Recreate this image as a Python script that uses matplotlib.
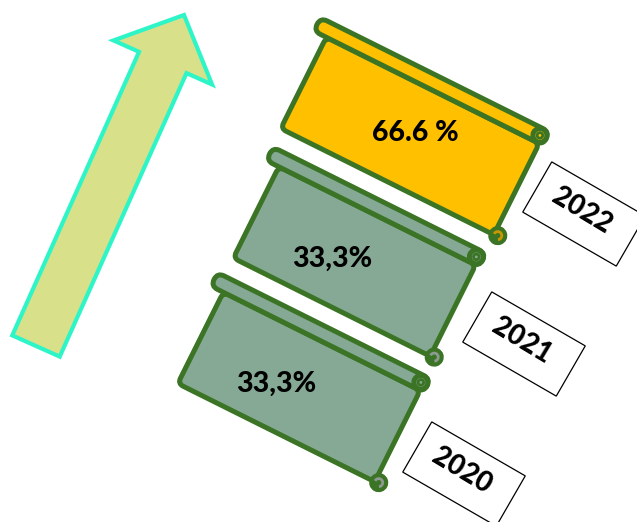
import numpy as np
import matplotlib.pyplot as plt
from matplotlib.patches import FancyBboxPatch, FancyArrow, Circle, Arc, Rectangle
from matplotlib.transforms import Affine2D

# data
years = ['2020', '2021', '2022']
shares = ['33,3%', '33,3%', '66.6 %']

# styles
fills = ['#86a996', '#86a996', '#ffc000']
curl_colors = ['#8c9a92', '#8c9a92', '#c99700']
edge = '#3c7425'
widths = [220, 220, 238]
text_dx = [-23, -22, 5]

fig = plt.figure(figsize=(6.37, 5.22), dpi=100)
ax = fig.add_axes([0, 0, 1, 1])
ax.set_xlim(0, 637)
ax.set_ylim(522, 0)   # pixel-like coords, y down
ax.axis('off')

# big arrow on the left
arrow = FancyArrow(36, 346, 148, -331, width=52, head_width=108, head_length=52,
                   length_includes_head=True, fc='#d9e08a', ec='#2ef5c8', lw=3,
                   joinstyle='miter')
ax.add_patch(arrow)


def scroll(cx, cy, w, h, fill, curl, angle=26.5):
    tr = Affine2D().translate(-w / 2, -h / 2).rotate_deg(angle).translate(cx, cy) + ax.transData
    kw = dict(ec=edge, lw=3.6, transform=tr, joinstyle='round')
    ax.add_patch(FancyBboxPatch((0, 0), w, h, boxstyle='round,pad=0,rounding_size=6',
                                fc=fill, **kw))
    ax.add_patch(FancyBboxPatch((-14, -15), w + 18, 15,
                                boxstyle='round,pad=0,rounding_size=7.5', fc=fill, **kw))
    # curl at the right end of the roll
    ax.add_patch(Circle((w - 3, -7.5), 7, fc=fill, **kw))
    ax.add_patch(Circle((w - 3, -7.5), 2.8, fc='none', ec=edge, lw=2, transform=tr))
    # curl at bottom right corner
    ax.add_patch(Circle((w + 4, h - 1), 8.5, fc=edge, ec=edge, lw=1.5, transform=tr))
    ax.add_patch(Arc((w + 4, h - 1), 8, 8, theta1=180, theta2=60, color=curl, lw=2,
                     transform=tr))


for i, (yr, sh) in enumerate(zip(years, shares)):
    cx, cy = 299 + 55.5 * i, 387 - 125.5 * i
    scroll(cx, cy, widths[i], 102, fills[i], curl_colors[i])
    ax.text(cx + text_dx[i], cy - 3, sh, ha='center', va='center', fontsize=20.5,
            fontweight='black', family='Lato', color='black')

    # year label box
    bx, by = 464 + 60 * i, 474 - 130 * i
    btr = Affine2D().translate(-54, -29).rotate_deg(30).translate(bx, by) + ax.transData
    ax.add_patch(Rectangle((0, 0), 108, 58, fc='white', ec='black', lw=0.9, transform=btr))
    ax.text(bx - 2, by - 3, yr, ha='center', va='center', rotation=-31,
            rotation_mode='anchor', fontsize=20, fontweight='black', family='Lato')

fig.savefig('out.png', dpi=100)
